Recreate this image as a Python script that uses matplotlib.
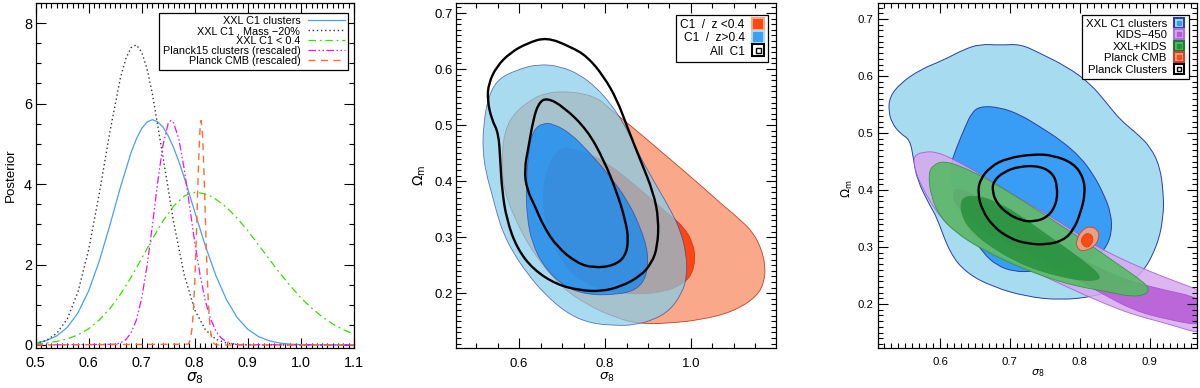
import numpy as np
import matplotlib
matplotlib.use('Agg')
import matplotlib.pyplot as plt
from matplotlib.path import Path
from matplotlib.patches import PathPatch
from matplotlib.lines import Line2D
from matplotlib.ticker import MultipleLocator

plt.rcParams['font.family'] = ['Liberation Sans', 'DejaVu Sans']
plt.rcParams['mathtext.fontset'] = 'dejavusans'

# ---------------- panel 1 : 1D posteriors of sigma8 ----------------
s8_blue = [0.50, 0.52, 0.54, 0.56, 0.58, 0.60, 0.62, 0.64, 0.66, 0.68, 0.69, 0.70, 0.71, 0.72, 0.73, 0.74,
           0.75, 0.76, 0.77, 0.78, 0.79, 0.80, 0.82, 0.84, 0.86, 0.88, 0.90, 0.92, 0.94, 0.96, 0.98, 1.00,
           1.05, 1.10]
post_blue = [0.046, 0.106, 0.225, 0.44, 0.80, 1.34, 2.08, 2.97, 3.92, 4.78, 5.12, 5.38, 5.54, 5.60, 5.55, 5.42,
             5.20, 4.91, 4.56, 4.17, 3.74, 3.31, 2.46, 1.72, 1.12, 0.68, 0.39, 0.21, 0.105, 0.049, 0.02, 0.008,
             0.0, 0.0]

s8_dot = [0.50, 0.52, 0.54, 0.56, 0.58, 0.60, 0.62, 0.64, 0.66, 0.67, 0.68, 0.69, 0.70, 0.71, 0.72, 0.74,
          0.76, 0.78, 0.80, 0.82, 0.84, 0.86, 0.88, 0.90, 1.00, 1.10]
post_dot = [0.039, 0.11, 0.29, 0.65, 1.32, 2.36, 3.75, 5.29, 6.64, 7.11, 7.39, 7.46, 7.28, 6.87, 6.26, 4.69,
            3.07, 1.75, 0.87, 0.38, 0.14, 0.047, 0.015, 0.004, 0.0, 0.0]

s8_green = [0.50, 0.52, 0.54, 0.56, 0.58, 0.60, 0.62, 0.64, 0.66, 0.68, 0.70, 0.72, 0.74, 0.76, 0.78, 0.79,
            0.80, 0.81, 0.82, 0.83, 0.84, 0.86, 0.88, 0.90, 0.92, 0.94, 0.96, 0.98, 1.00, 1.02, 1.04, 1.06,
            1.08, 1.10]
post_green = [0.025, 0.048, 0.087, 0.152, 0.25, 0.40, 0.62, 0.90, 1.26, 1.68, 2.15, 2.63, 3.08, 3.45, 3.70, 3.76,
              3.79, 3.78, 3.75, 3.70, 3.62, 3.42, 3.15, 2.84, 2.49, 2.14, 1.79, 1.47, 1.17, 0.92, 0.70, 0.52,
              0.38, 0.27]

s8_mag = [0.50, 0.65, 0.66, 0.67, 0.68, 0.69, 0.70, 0.71, 0.72, 0.73, 0.74, 0.75, 0.755, 0.76, 0.77, 0.78,
          0.79, 0.80, 0.81, 0.82, 0.83, 0.84, 0.85, 0.86, 0.87, 0.88, 1.10]
post_mag = [0.0, 0.018, 0.051, 0.13, 0.30, 0.62, 1.16, 1.95, 2.95, 4.03, 4.96, 5.51, 5.58, 5.53, 5.12, 4.39,
            3.48, 2.55, 1.74, 1.09, 0.64, 0.34, 0.17, 0.079, 0.034, 0.01, 0.0]

s8_cmb = [0.50, 0.7875, 0.79, 0.7925, 0.795, 0.7975, 0.80, 0.8025, 0.805, 0.8075, 0.81, 0.812, 0.815, 0.8175,
          0.82, 0.8225, 0.825, 0.8275, 0.83, 0.8325, 0.835, 0.84, 1.10]
post_cmb = [0.0, 0.02, 0.076, 0.19, 0.43, 0.86, 1.55, 2.50, 3.61, 4.66, 5.38, 5.58, 5.15, 4.26,
            3.16, 2.09, 1.24, 0.66, 0.31, 0.13, 0.05, 0.0, 0.0]

labels_1d = ['XXL C1 clusters', 'XXL C1 , Mass \u221220%', 'XXL C1 < 0.4',
             'Planck15 clusters (rescaled)', 'Planck CMB (rescaled)']

# ---------------- panel 2 : split in redshift (sigma8, Omega_m) ----------------
lowz_out_x = [0.696, 0.750, 0.789, 0.800, 0.866, 0.944, 1.022, 1.068, 1.115, 1.146, 1.165, 1.173, 1.171,
              1.154, 1.099, 1.022, 0.944, 0.882, 0.828, 0.758, 0.696, 0.633, 0.587, 0.563, 0.560, 0.565,
              0.587, 0.633, 0.664]
lowz_out_y = [0.560, 0.557, 0.545, 0.536, 0.495, 0.444, 0.393, 0.361, 0.331, 0.307, 0.277, 0.248, 0.221,
              0.194, 0.167, 0.152, 0.146, 0.145, 0.155, 0.179, 0.212, 0.271, 0.337, 0.390, 0.438, 0.486,
              0.521, 0.548, 0.557]
lowz_in_x = [0.688, 0.719, 0.789, 0.866, 0.944, 0.983, 1.005, 1.010, 1.002, 0.983, 0.944, 0.866, 0.789,
             0.727, 0.688, 0.664, 0.655, 0.661]
lowz_in_y = [0.456, 0.460, 0.441, 0.396, 0.343, 0.319, 0.289, 0.260, 0.233, 0.218, 0.203, 0.197, 0.206,
             0.230, 0.271, 0.319, 0.367, 0.414]
highz_out_x = [0.645, 0.696, 0.742, 0.781, 0.812, 0.843, 0.866, 0.894, 0.925, 0.952, 0.975, 0.989, 0.991,
               0.979, 0.952, 0.913, 0.866, 0.828, 0.765, 0.711, 0.657, 0.618, 0.587, 0.563, 0.548, 0.536,
               0.523, 0.515, 0.517, 0.526, 0.548, 0.595]
highz_out_y = [0.609, 0.605, 0.590, 0.566, 0.539, 0.504, 0.468, 0.426, 0.385, 0.349, 0.313, 0.271, 0.230,
               0.200, 0.170, 0.152, 0.143, 0.142, 0.146, 0.164, 0.200, 0.236, 0.271, 0.307, 0.343, 0.379,
               0.414, 0.456, 0.498, 0.545, 0.581, 0.599]
highz_in_x = [0.657, 0.680, 0.719, 0.765, 0.812, 0.851, 0.882, 0.901, 0.897, 0.874, 0.828, 0.758, 0.703,
              0.657, 0.630, 0.618, 0.616, 0.622, 0.633]
highz_in_y = [0.504, 0.502, 0.486, 0.450, 0.408, 0.367, 0.319, 0.271, 0.230, 0.206, 0.197, 0.197, 0.212,
              0.248, 0.289, 0.337, 0.390, 0.456, 0.492]
all_out_x = [0.664, 0.719, 0.758, 0.797, 0.828, 0.851, 0.882, 0.913, 0.925, 0.922, 0.909, 0.882, 0.835,
             0.789, 0.742, 0.688, 0.633, 0.595, 0.571, 0.560, 0.556, 0.552, 0.536, 0.526, 0.529, 0.548,
             0.579, 0.618]
all_out_y = [0.657, 0.640, 0.623, 0.587, 0.545, 0.498, 0.438, 0.379, 0.331, 0.283, 0.254, 0.230, 0.211,
             0.203, 0.205, 0.215, 0.242, 0.280, 0.331, 0.385, 0.438, 0.486, 0.510, 0.545, 0.575, 0.605,
             0.629, 0.646]
all_in_x = [0.664, 0.703, 0.758, 0.797, 0.828, 0.847, 0.855, 0.847, 0.820, 0.773, 0.734, 0.688, 0.657,
            0.637, 0.618, 0.612, 0.622, 0.633, 0.645]
all_in_y = [0.549, 0.533, 0.492, 0.438, 0.379, 0.331, 0.295, 0.265, 0.249, 0.245, 0.254, 0.283, 0.319,
            0.355, 0.385, 0.420, 0.462, 0.510, 0.539]
labels_z = ['C1  /  z <0.4', 'C1  /  z>0.4', 'All  C1']

# ---------------- panel 3 : comparison with other probes ----------------
xxl_out_x = [0.633, 0.657, 0.686, 0.715, 0.743, 0.782, 0.815, 0.839, 0.858, 0.882, 0.901, 0.915, 0.920,
             0.920, 0.911, 0.887, 0.848, 0.820, 0.772, 0.724, 0.676, 0.638, 0.614, 0.595, 0.586, 0.567,
             0.562, 0.557, 0.543, 0.531, 0.526, 0.528, 0.543, 0.571, 0.605]
xxl_out_y = [0.646, 0.656, 0.654, 0.656, 0.640, 0.616, 0.587, 0.552, 0.523, 0.499, 0.476, 0.441, 0.394,
             0.353, 0.301, 0.248, 0.225, 0.213, 0.207, 0.213, 0.230, 0.254, 0.289, 0.353, 0.371, 0.418,
             0.453, 0.488, 0.499, 0.517, 0.540, 0.564, 0.587, 0.611, 0.628]
xxl_in_x = [0.657, 0.686, 0.715, 0.743, 0.772, 0.801, 0.820, 0.834, 0.845, 0.846, 0.836, 0.820, 0.791,
            0.762, 0.734, 0.705, 0.681, 0.662, 0.643, 0.629, 0.617, 0.614, 0.624, 0.636, 0.645]
xxl_in_y = [0.547, 0.545, 0.532, 0.511, 0.488, 0.458, 0.426, 0.394, 0.359, 0.324, 0.295, 0.280, 0.271,
            0.265, 0.257, 0.257, 0.268, 0.289, 0.324, 0.365, 0.406, 0.441, 0.476, 0.511, 0.535]
kids_out_x = [0.562, 0.576, 0.595, 0.619, 0.648, 0.686, 0.734, 0.782, 0.820, 0.858, 0.901, 0.939, 0.985,
              0.985, 0.925, 0.877, 0.829, 0.782, 0.734, 0.686, 0.648, 0.619, 0.600, 0.583, 0.569, 0.563]
kids_out_y = [0.460, 0.467, 0.467, 0.454, 0.435, 0.406, 0.371, 0.336, 0.304, 0.280, 0.257, 0.239, 0.218,
              0.143, 0.166, 0.181, 0.204, 0.230, 0.257, 0.283, 0.306, 0.330, 0.353, 0.385, 0.418, 0.441]
kids_in_x = [0.624, 0.662, 0.710, 0.758, 0.805, 0.853, 0.901, 0.985, 0.985, 0.925, 0.877, 0.829, 0.782,
             0.734, 0.686, 0.648, 0.624, 0.617]
kids_in_y = [0.406, 0.382, 0.347, 0.312, 0.277, 0.248, 0.230, 0.208, 0.160, 0.173, 0.189, 0.220, 0.254,
             0.283, 0.312, 0.342, 0.371, 0.391]
comb_out_x = [0.583, 0.590, 0.605, 0.629, 0.657, 0.686, 0.724, 0.758, 0.791, 0.829, 0.863, 0.891, 0.900,
              0.894, 0.872, 0.839, 0.805, 0.772, 0.734, 0.696, 0.657, 0.624, 0.600, 0.587]
comb_out_y = [0.429, 0.444, 0.451, 0.442, 0.426, 0.406, 0.377, 0.350, 0.324, 0.292, 0.263, 0.239, 0.226,
              0.216, 0.213, 0.222, 0.229, 0.239, 0.255, 0.274, 0.298, 0.324, 0.353, 0.388]
comb_in_x = [0.629, 0.648, 0.676, 0.710, 0.743, 0.777, 0.810, 0.829, 0.827, 0.805, 0.777, 0.743, 0.710,
             0.676, 0.648, 0.631]
comb_in_y = [0.385, 0.391, 0.382, 0.359, 0.330, 0.301, 0.271, 0.251, 0.242, 0.241, 0.247, 0.258, 0.274,
             0.298, 0.324, 0.353]
cmb_out_x = [0.795, 0.803, 0.815, 0.826, 0.828, 0.822, 0.805, 0.796]
cmb_out_y = [0.312, 0.330, 0.337, 0.330, 0.318, 0.301, 0.292, 0.298]
cmb_in_x = [0.801, 0.805, 0.813, 0.820, 0.817, 0.809]
cmb_in_y = [0.309, 0.321, 0.325, 0.317, 0.304, 0.298]
pl_out_x = [0.657, 0.672, 0.696, 0.734, 0.762, 0.791, 0.805, 0.808, 0.801, 0.791, 0.777, 0.753, 0.724,
            0.700, 0.676, 0.660, 0.654]
pl_out_y = [0.418, 0.441, 0.456, 0.463, 0.461, 0.447, 0.423, 0.394, 0.359, 0.330, 0.312, 0.304, 0.306,
            0.315, 0.336, 0.365, 0.394]
pl_in_x = [0.676, 0.691, 0.715, 0.743, 0.762, 0.768, 0.767, 0.755, 0.734, 0.715, 0.696, 0.681, 0.675]
pl_in_y = [0.415, 0.432, 0.442, 0.442, 0.429, 0.406, 0.377, 0.353, 0.344, 0.347, 0.359, 0.377, 0.397]
labels_cmp = ['XXL C1 clusters', 'KIDS\u2212450', 'XXL+KIDS', 'Planck CMB', 'Planck Clusters']


def closed_path(xs, ys):
    # smooth closed outline through the read vertices (quadratic bezier)
    p = np.column_stack([xs, ys])
    m = (p + np.roll(p, -1, axis=0)) / 2
    verts = [m[-1]]
    codes = [Path.MOVETO]
    for i in range(len(p)):
        verts += [p[i], m[i]]
        codes += [Path.CURVE3, Path.CURVE3]
    verts.append(m[-1])
    codes.append(Path.CLOSEPOLY)
    return Path(verts, codes)


def region(ax, xs, ys, fc, ec='none', lw=0.6, alpha=1.0, fill=True):
    ax.add_patch(PathPatch(closed_path(xs, ys), facecolor=fc if fill else 'none',
                           edgecolor=ec, lw=lw, alpha=alpha))


def square(fc, ec, size=7.5, inner=None):
    h = [Line2D([], [], ls='none', marker='s', ms=size, mfc=fc, mec=ec, mew=1.5)]
    if inner is not None:
        h.append(Line2D([], [], ls='none', marker='s', ms=size * 0.45, mfc=inner[0], mec=inner[1], mew=1.0))
    return tuple(h)


def style(ax, fs, xpad, ypad):
    ax.tick_params(which='both', direction='in', top=True, right=True, labelsize=fs, width=0.8)
    ax.tick_params(which='major', length=7)
    ax.tick_params(which='minor', length=3.5)
    ax.tick_params(axis='x', pad=xpad)
    ax.tick_params(axis='y', pad=ypad)
    for s in ax.spines.values():
        s.set_linewidth(0.9)


fig = plt.figure(figsize=(12, 3.88), dpi=100)
bot, hgt = 40 / 388, 345 / 388

# panel 1
ax1 = fig.add_axes([35.5 / 1200, bot, 318.5 / 1200, hgt])
ax1.plot(s8_blue, post_blue, color='#4a9ff0', lw=0.9, label=labels_1d[0])
ax1.plot(s8_dot, post_dot, color='#333333', lw=1.0, ls=(0, (1, 2)), label=labels_1d[1])
ax1.plot(s8_green, post_green, color='#35e000', lw=0.9, ls=(0, (6, 3, 1.5, 3)), label=labels_1d[2])
ax1.plot(s8_mag, post_mag, color='#f010f0', lw=0.9, ls=(0, (6, 2, 1.2, 2, 1.2, 2)), label=labels_1d[3])
ax1.plot(s8_cmb, post_cmb, color='#ff6a33', lw=1.0, ls=(0, (5, 4)), label=labels_1d[4])
ax1.set_xlim(0.5, 1.1)
ax1.set_ylim(-0.075, 8.5)
ax1.xaxis.set_major_locator(MultipleLocator(0.1))
ax1.xaxis.set_minor_locator(MultipleLocator(0.01))
ax1.yaxis.set_major_locator(MultipleLocator(2))
ax1.yaxis.set_minor_locator(MultipleLocator(0.5))
ax1.xaxis.set_major_formatter(plt.FuncFormatter(lambda v, p: '%.1f' % v))
style(ax1, 10.4, 5.5, 2.5)
ax1.set_xlabel(r'$\sigma_8$', fontsize=11)
ax1.xaxis.set_label_coords(0.5, -0.087)
ax1.xaxis.label.set_va('center')
ax1.set_ylabel('Posterior', fontsize=9.6)
ax1.yaxis.set_label_coords(-0.078, 0.5)
ax1.yaxis.label.set_va('center')
lg = ax1.legend(loc='upper right', bbox_to_anchor=(0.981, 0.971), borderaxespad=0, markerfirst=False,
                fontsize=7.8, handlelength=3.4, handletextpad=0.7, labelspacing=0.0,
                fancybox=False, framealpha=1, edgecolor='black', borderpad=0.3)
lg.get_frame().set_linewidth(0.9)

# panel 2
ax2 = fig.add_axes([456 / 1200, bot, 320 / 1200, hgt])
region(ax2, lowz_out_x, lowz_out_y, '#f9a98a', '#c83c28')
region(ax2, lowz_in_x, lowz_in_y, '#ff4510', '#c83c28')
region(ax2, highz_out_x, highz_out_y, '#83cdea', '#2a3fa0', alpha=0.7)
region(ax2, highz_in_x, highz_in_y, '#0786f7', '#2a3fa0', alpha=0.7)
region(ax2, all_out_x, all_out_y, 'none', 'black', lw=1.7, fill=False)
region(ax2, all_in_x, all_in_y, 'none', 'black', lw=1.7, fill=False)
ax2.set_xlim(0.453, 1.198)
ax2.set_ylim(0.102, 0.718)
ax2.xaxis.set_major_locator(MultipleLocator(0.2))
ax2.xaxis.set_minor_locator(MultipleLocator(0.05))
ax2.yaxis.set_major_locator(MultipleLocator(0.1))
ax2.yaxis.set_minor_locator(MultipleLocator(0.01))
style(ax2, 9.5, 7, 2)
ax2.set_xlabel(r'$\sigma_8$', fontsize=9.5)
ax2.xaxis.set_label_coords(0.47, -0.084)
ax2.xaxis.label.set_va('center')
ax2.set_ylabel(r'$\Omega_{\rm m}$', fontsize=10)
ax2.yaxis.set_label_coords(-0.1125, 0.5)
ax2.yaxis.label.set_va('center')
h2 = [square('#ff4510', '#f9a98a', size=8), square('#3c9ef5', '#a6dbef', size=8),
      square('white', 'black', size=8, inner=('white', 'black'))]
lg = ax2.legend(h2, labels_z, loc='upper right', bbox_to_anchor=(0.975, 0.965), borderaxespad=0,
                markerfirst=False, fontsize=8.6, handlelength=1.0, handletextpad=0.6, labelspacing=0.1,
                fancybox=False, framealpha=1, edgecolor='black', borderpad=0.35)
lg.get_frame().set_linewidth(0.9)

# panel 3
ax3 = fig.add_axes([878 / 1200, bot, 319 / 1200, hgt])
region(ax3, xxl_out_x, xxl_out_y, '#a6dbf0', '#2a3fa0', lw=0.7)
region(ax3, xxl_in_x, xxl_in_y, '#3a9df5', '#2a3fa0', lw=0.7)
region(ax3, kids_out_x, kids_out_y, '#d7a8ee', '#a050d0', alpha=0.85)
region(ax3, kids_in_x, kids_in_y, '#b65ad6', '#a050d0', alpha=0.85)
region(ax3, comb_out_x, comb_out_y, '#50bb5e', '#2f8f3a', alpha=0.85)
region(ax3, comb_in_x, comb_in_y, '#23903a', '#2f8f3a', alpha=0.8)
region(ax3, cmb_out_x, cmb_out_y, '#e9a183', '#d04030')
region(ax3, cmb_in_x, cmb_in_y, '#ff4a10', '#d04030')
region(ax3, pl_out_x, pl_out_y, 'none', 'black', lw=1.7, fill=False)
region(ax3, pl_in_x, pl_in_y, 'none', 'black', lw=1.7, fill=False)
ax3.set_xlim(0.511, 0.968)
ax3.set_ylim(0.123, 0.728)
ax3.xaxis.set_major_locator(MultipleLocator(0.1))
ax3.xaxis.set_minor_locator(MultipleLocator(0.01))
ax3.yaxis.set_major_locator(MultipleLocator(0.1))
ax3.yaxis.set_minor_locator(MultipleLocator(0.01))
style(ax3, 8.2, 6.5, 3.5)
ax3.set_xlabel(r'$\sigma_8$', fontsize=8)
ax3.xaxis.set_label_coords(0.5, -0.072)
ax3.xaxis.label.set_va('center')
ax3.set_ylabel(r'$\Omega_{\rm m}$', fontsize=8.5)
ax3.yaxis.set_label_coords(-0.097, 0.46)
ax3.yaxis.label.set_va('center')
h3 = [square('#a6dbf0', '#2a3fa0', inner=('#3a9df5', '#3a9df5')),
      square('#d7a8ee', '#b070e0', inner=('#b65ad6', '#b65ad6')),
      square('#50bb5e', '#1e7a30', inner=('#23903a', '#23903a')),
      square('#e9a183', '#d04030', inner=('#ff4a10', '#ff4a10')),
      square('white', 'black', inner=('white', 'black'))]
lg = ax3.legend(h3, labels_cmp, loc='upper right', bbox_to_anchor=(0.975, 0.965), borderaxespad=0,
                markerfirst=False, fontsize=8.2, handlelength=1.0, handletextpad=0.6, labelspacing=0.12,
                fancybox=False, framealpha=1, edgecolor='black', borderpad=0.35)
lg.get_frame().set_linewidth(0.9)

fig.savefig('out.png', dpi=100)
